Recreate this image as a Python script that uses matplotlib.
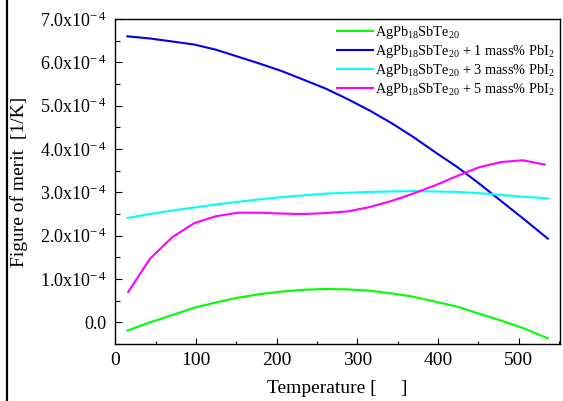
import matplotlib
matplotlib.use('Agg')
import matplotlib.pyplot as plt
from matplotlib.lines import Line2D
from matplotlib.ticker import MultipleLocator, FuncFormatter

plt.rcParams['font.family'] = ['Liberation Serif', 'DejaVu Serif']
plt.rcParams['mathtext.fontset'] = 'custom'
plt.rcParams['mathtext.rm'] = 'Liberation Serif'
plt.rcParams['mathtext.it'] = 'Liberation Serif:italic'

# temperature grid
temp = [15, 43, 71, 98, 125, 152, 179, 206, 233, 260, 288, 315, 342, 369, 396,
        424, 451, 478, 505, 536]
temp_5 = [16, 43, 71, 98, 125, 152, 179, 206, 233, 260, 288, 315, 342, 369, 396,
          424, 451, 478, 505, 532]

# figure of merit, units of 1e-4 1/K
z_base = [-0.19, 0.00, 0.17, 0.34, 0.46, 0.57, 0.65, 0.71, 0.75, 0.77, 0.76, 0.73,
          0.67, 0.59, 0.48, 0.36, 0.20, 0.04, -0.13, -0.37]
z_1 = [6.60, 6.55, 6.48, 6.41, 6.29, 6.13, 5.97, 5.80, 5.60, 5.40, 5.15, 4.89,
       4.60, 4.28, 3.93, 3.58, 3.20, 2.80, 2.40, 1.93]
z_3 = [2.41, 2.50, 2.58, 2.65, 2.72, 2.78, 2.84, 2.89, 2.93, 2.97, 2.99, 3.01,
       3.02, 3.03, 3.02, 3.01, 2.98, 2.94, 2.90, 2.86]
z_5 = [0.70, 1.47, 1.97, 2.29, 2.45, 2.53, 2.53, 2.51, 2.50, 2.52, 2.56, 2.66,
       2.80, 2.97, 3.16, 3.38, 3.58, 3.70, 3.74, 3.64]

labels = [r'AgPb$_{18}$SbTe$_{20}$',
          r'AgPb$_{18}$SbTe$_{20}$ + 1 mass% PbI$_2$',
          r'AgPb$_{18}$SbTe$_{20}$ + 3 mass% PbI$_2$',
          r'AgPb$_{18}$SbTe$_{20}$ + 5 mass% PbI$_2$']
colors = ['#00ff00', '#0000ee', '#00ffff', '#ff00ff']

fig = plt.figure(figsize=(5.63, 4.01), dpi=100)
ax = fig.add_axes([115.3 / 563, 1 - 344 / 401, (560 - 115.3) / 563, (344 - 19) / 401])

ax.plot(temp, [v * 1e-4 for v in z_base], color=colors[0], lw=1.5, label=labels[0])
ax.plot(temp, [v * 1e-4 for v in z_1], color=colors[1], lw=1.5, label=labels[1])
ax.plot(temp, [v * 1e-4 for v in z_3], color=colors[2], lw=1.5, label=labels[2])
ax.plot(temp_5, [v * 1e-4 for v in z_5], color=colors[3], lw=1.5, label=labels[3])

ax.set_xlim(0, 551)
ax.set_ylim(-0.5e-4, 7.0e-4)

ax.xaxis.set_major_locator(MultipleLocator(100))
ax.xaxis.set_minor_locator(MultipleLocator(50))
ax.yaxis.set_major_locator(MultipleLocator(1e-4))
ax.yaxis.set_minor_locator(MultipleLocator(0.5e-4))


def yfmt(v, pos):
    n = round(v * 1e4, 1)
    if abs(n) < 1e-9:
        return '0.0'
    return '%.1fx10$^{\\!-4}$' % n


ax.yaxis.set_major_formatter(FuncFormatter(yfmt))
ax.tick_params(which='both', direction='in', top=False, right=False, labelsize=14, width=0.8)
ax.tick_params(axis='x', which='major', length=4, pad=6)
ax.tick_params(axis='x', which='minor', length=2.2)
ax.tick_params(axis='y', which='major', length=5, pad=6, labelsize=13)
ax.tick_params(axis='y', which='minor', length=3.5)
for s in ax.spines.values():
    s.set_linewidth(1.0)

ax.set_xlabel('Temperature [     ]', fontsize=14, labelpad=8)
ax.set_ylabel('Figure of merit  [1/K]', fontsize=14)
ax.yaxis.set_label_coords(-0.196, 0.5)

ax.legend(loc='upper right', bbox_to_anchor=(1.0, 1.0), frameon=False, fontsize=10.3,
          handlelength=2.5, handletextpad=0.2, labelspacing=0.15, borderaxespad=0.1,
          borderpad=0.25)

# black rule on the left edge of the picture
fig.add_artist(Line2D([7.5 / 563, 7.5 / 563], [0, 1], transform=fig.transFigure,
                      color='black', lw=1.6))

fig.savefig('out.png', dpi=100)
